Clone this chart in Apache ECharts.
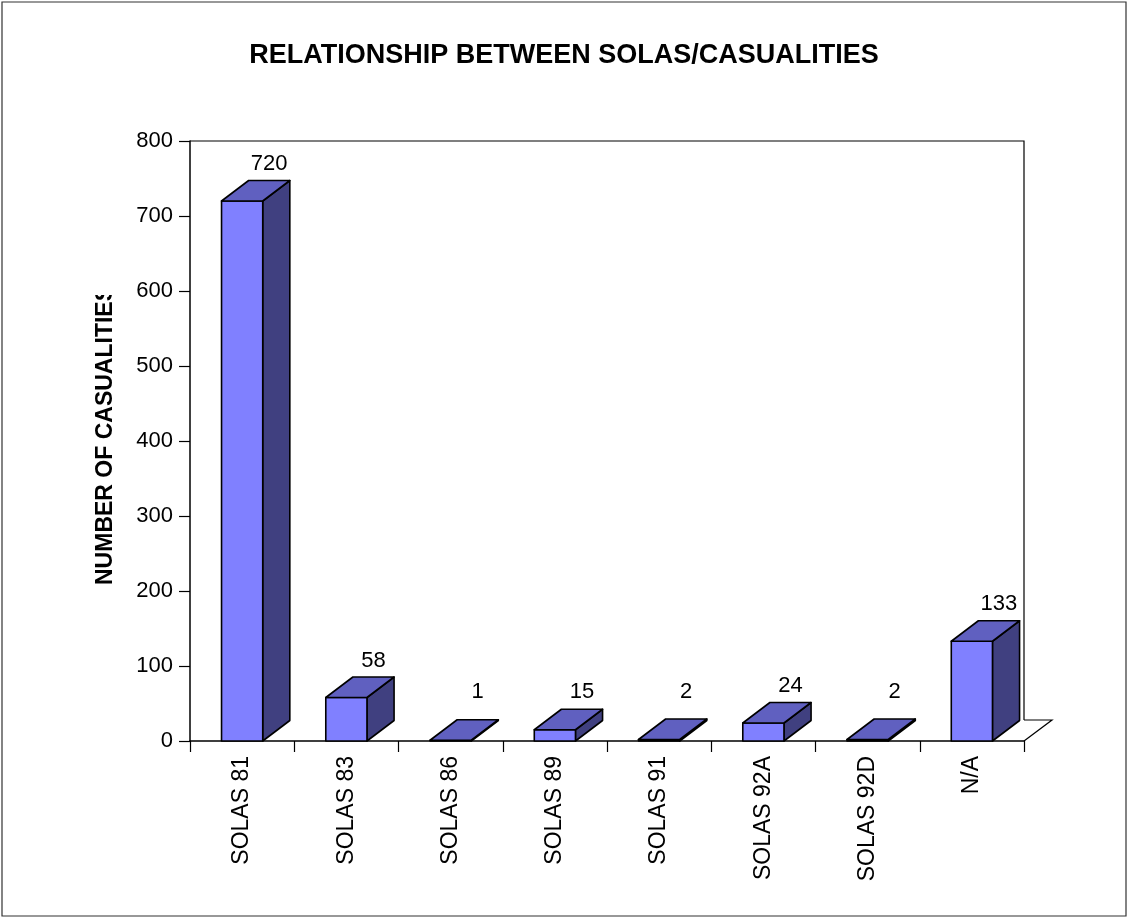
<!DOCTYPE html>
<html>
<head>
<meta charset="utf-8">
<script src="https://cdn.jsdelivr.net/npm/echarts@6/dist/echarts.min.js"></script>
<style>
html,body{margin:0;padding:0;background:#fff;}
#chart{width:1128px;height:918px;}
</style>
</head>
<body>
<div id="chart"></div>
<script>
const titleText = 'RELATIONSHIP BETWEEN SOLAS/CASUALITIES';
const yAxisTitle = 'NUMBER OF CASUALITIES';
const categories = ['SOLAS 81', 'SOLAS 83', 'SOLAS 86', 'SOLAS 89', 'SOLAS 91', 'SOLAS 92A', 'SOLAS 92D', 'N/A'];
const casualties = [720, 58, 1, 15, 2, 24, 2, 133];
const yMin = 0, yMax = 800, yStep = 100;

const FONT = '"Liberation Sans", Arial, Helvetica, sans-serif';
const FRONT = '#8080FF', TOP = '#6060C0', SIDE = '#404080';

function renderBar(params, api) {
  const idx = api.value(0);
  const val = api.value(1);
  const top = api.coord([idx, val]);
  const base = api.coord([idx, 0]);
  const band = api.size([1, 0])[0];
  const w = band * 0.395;
  const x0 = top[0] - w / 2, x1 = top[0] + w / 2;
  const yT = top[1], yB = base[1];
  const dx = band * 0.26, dy = -20.5;
  const st = {stroke: '#000', lineWidth: 1.6, lineJoin: 'round'};
  const children = [];
  if (yB - yT > 0.5) {
    children.push({type: 'polygon', shape: {points: [[x1, yT], [x1 + dx, yT + dy], [x1 + dx, yB + dy], [x1, yB]]},
      style: Object.assign({fill: SIDE}, st)});
    children.push({type: 'rect', shape: {x: x0, y: yT, width: w, height: yB - yT},
      style: Object.assign({fill: FRONT}, st)});
  }
  children.push({type: 'polygon', shape: {points: [[x0, yT], [x1, yT], [x1 + dx, yT + dy], [x0 + dx, yT + dy]]},
    style: Object.assign({fill: TOP}, st)});
  children.push({type: 'text', x: top[0] + 27, y: Math.min(yT - 37, yB - 49),
    style: {text: String(val), font: '22px ' + FONT, fill: '#000', align: 'center', verticalAlign: 'middle'}});
  return {type: 'group', children: children};
}

function renderFrame(params, api) {
  const cs = params.coordSys;
  const L = cs.x, T = cs.y, R = cs.x + cs.width, B = cs.y + cs.height;
  const dx = 28, dy = -21;
  const st = {stroke: '#000', lineWidth: 1.2, fill: null};
  return {type: 'group', children: [
    {type: 'polyline', shape: {points: [[L, T], [R, T], [R, B + dy]]}, style: st},
    {type: 'polyline', shape: {points: [[R, B + dy], [R + dx, B + dy], [R, B]]}, style: st}
  ]};
}

const chart = echarts.init(document.getElementById('chart'), null, {renderer: 'canvas'});
chart.setOption({
  backgroundColor: '#fff',
  animation: false,
  title: {
    text: titleText, left: 'center', top: 37,
    textStyle: {fontFamily: FONT, fontSize: 27, fontWeight: 'bold', color: '#000'}
  },
  grid: {left: 190, right: 104, top: 141, bottom: 177, containLabel: false},
  xAxis: {
    type: 'category', data: categories, boundaryGap: true,
    axisLine: {show: true, lineStyle: {color: '#000', width: 1.5}},
    axisTick: {show: true, interval: 0, length: 11, lineStyle: {color: '#000', width: 1.2}},
    axisLabel: {interval: 0, rotate: 90, margin: 15, fontFamily: FONT, fontSize: 23, color: '#000'},
    splitLine: {show: false}
  },
  yAxis: {
    type: 'value', min: yMin, max: yMax, interval: yStep,
    axisLine: {show: true, lineStyle: {color: '#000', width: 1.5}},
    axisTick: {show: true, length: 11, lineStyle: {color: '#000', width: 1.2}},
    axisLabel: {margin: 17, fontFamily: FONT, fontSize: 22, color: '#000'},
    splitLine: {show: false}
  },
  graphic: [
    {type: 'rect', shape: {x: 2, y: 2, width: 1124, height: 914}, style: {fill: null, stroke: '#333', lineWidth: 1.2}, z: 100},
    {type: 'text', x: 106, y: 585, rotation: Math.PI / 2,
      style: {text: yAxisTitle, font: 'bold 23px ' + FONT, fill: '#000', align: 'left', verticalAlign: 'middle'}, z: 100},
    {type: 'rect', shape: {x: 88, y: 260, width: 36, height: 35}, style: {fill: '#fff'}, z: 101}
  ],
  series: [
    {type: 'custom', name: 'frame', renderItem: renderFrame, data: [[0, 0]], silent: true, z: 1},
    {type: 'custom', name: 'Casualties', renderItem: renderBar,
      data: categories.map((c, i) => [i, casualties[i]]),
      encode: {x: 0, y: 1}, z: 2}
  ]
});
</script>
</body>
</html>
